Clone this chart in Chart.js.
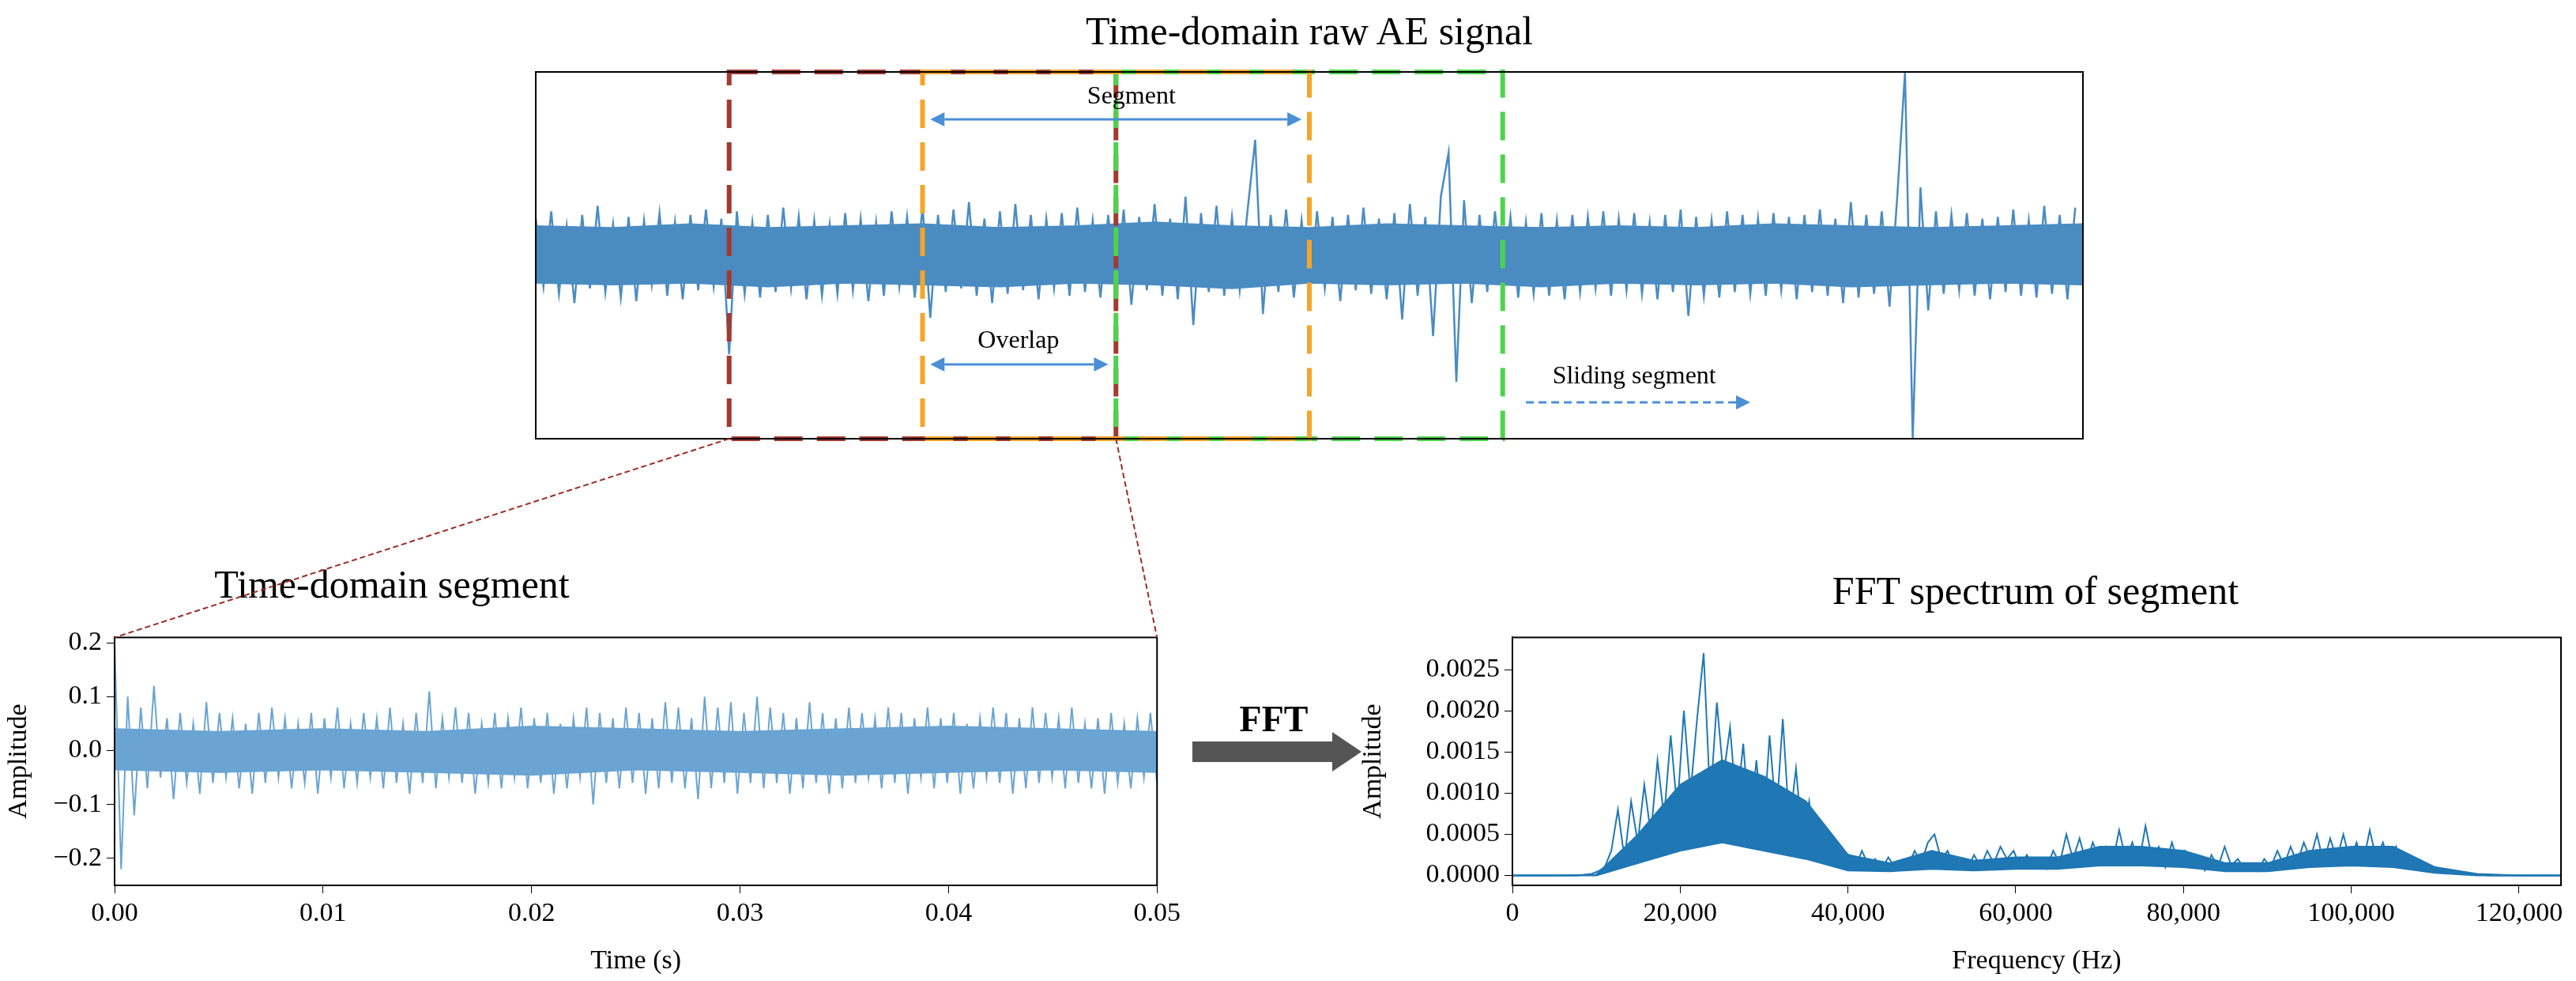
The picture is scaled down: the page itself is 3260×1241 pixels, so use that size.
<!DOCTYPE html>
<html>
<head>
<meta charset="utf-8">
<script src="https://cdn.jsdelivr.net/npm/chart.js@4.4.0/dist/chart.umd.min.js"></script>
<style>
  body { margin: 0; width: 3260px; height: 1241px; background: #fff; position: relative; overflow: hidden; font-family: 'Liberation Serif', serif; }
  canvas { position: absolute; }
  .ttl { position: absolute; font-size: 50px; color: #000; text-align: center; white-space: nowrap; }
</style>
</head>
<body>
<div class="ttl" style="left:678px;width:1958px;top:10px;">Time-domain raw AE signal</div>
<div class="ttl" style="left:146px;width:700px;top:710px;">Time-domain segment</div>
<div class="ttl" style="left:1911px;width:1330px;top:718px;">FFT spectrum of segment</div>
<canvas id="raw" width="1978" height="484" style="left:668px;top:81px;"></canvas>
<canvas id="seg" width="1500" height="460" style="left:0px;top:780px;"></canvas>
<canvas id="fft" width="1546" height="460" style="left:1714px;top:780px;"></canvas>
<canvas id="overlay" width="3260" height="1241" style="left:0;top:0;pointer-events:none;"></canvas>
<script>
// raw signal (sample index 0..1000, step 5), amplitude normalised
const rawValues = [
  0.2,-0.17,0.24,-0.21,0.16,-0.26,0.22,-0.18,0.27,-0.2,0.17,-0.23,0.21,-0.25,0.19,-0.16,0.23,-0.22,0.18,-0.24,
  0.22,-0.19,0.25,-0.17,0.2,-0.54,0.24,-0.21,0.18,-0.23,0.22,-0.2,0.26,-0.18,0.21,-0.24,0.19,-0.22,0.17,-0.21,
  0.23,-0.19,0.2,-0.25,0.18,-0.22,0.24,-0.17,0.21,-0.23,0.27,-0.34,0.22,-0.2,0.25,-0.18,0.29,-0.22,0.2,-0.26,
  0.24,-0.21,0.28,-0.19,0.22,-0.24,0.2,-0.18,0.23,-0.22,0.26,-0.2,0.19,-0.23,0.22,-0.21,0.25,-0.27,0.21,-0.19,
  0.28,-0.22,0.2,-0.24,0.32,-0.38,0.23,-0.2,0.27,-0.22,0.21,-0.19,0.24,0.63,-0.32,0.22,-0.2,0.25,-0.23,0.19,
  -0.22,0.24,-0.18,0.21,-0.25,0.22,-0.19,0.26,-0.21,0.2,-0.24,0.23,-0.35,0.28,-0.22,0.21,-0.44,0.32,0.56,-0.69,
  0.3,-0.26,0.22,-0.2,0.24,-0.19,0.21,-0.23,0.18,-0.21,0.23,-0.22,0.19,-0.24,0.22,-0.2,0.21,-0.18,0.24,-0.22,
  0.2,-0.19,0.23,-0.21,0.18,-0.24,0.22,-0.2,0.25,-0.33,0.21,-0.22,0.19,-0.23,0.24,-0.2,0.22,-0.21,0.2,-0.22,
  0.23,-0.19,0.21,-0.24,0.22,-0.2,0.25,-0.22,0.2,-0.26,0.29,-0.23,0.22,-0.21,0.24,-0.28,0.32,1.0,-1.0,0.37,
  -0.3,0.24,-0.21,0.22,-0.19,0.23,-0.22,0.2,-0.24,0.21,-0.2,0.25,-0.22,0.19,-0.23,0.27,-0.21,0.22,-0.24,0.26
];
const rawStep = 5;
// dense core of the raw signal (every 50 samples)
const rawCoreUpper = [0.16,0.15,0.17,0.15,0.16,0.17,0.15,0.16,0.18,0.16,0.15,0.17,0.16,0.15,0.16,0.15,0.17,0.16,0.15,0.16,0.17];
const rawCoreLower = [-0.15,-0.16,-0.15,-0.17,-0.15,-0.16,-0.17,-0.15,-0.16,-0.18,-0.15,-0.16,-0.15,-0.17,-0.15,-0.16,-0.15,-0.17,-0.16,-0.15,-0.16];
const rawCoreStep = 50;

// segment windows on the raw signal [start, end]
const windowRed = [125, 375];
const windowOrange = [250, 500];
const windowGreen = [375, 625];
const segmentArrow = [255, 495];
const overlapArrow = [255, 370];
const slidingArrow = [640, 785];

// time-domain segment
const segValues = [
  0.2,-0.22,0.1,-0.12,0.08,-0.07,0.12,-0.05,0.06,-0.09,0.07,-0.06,0.05,-0.08,0.09,-0.06,0.07,-0.05,0.06,-0.07,
  0.05,-0.08,0.07,-0.06,0.08,-0.05,0.06,-0.07,0.05,-0.06,0.07,-0.08,0.06,-0.05,0.08,-0.07,0.05,-0.06,0.07,-0.05,
  0.06,-0.07,0.08,-0.06,0.05,-0.08,0.07,-0.06,0.11,-0.07,0.06,-0.05,0.08,-0.06,0.07,-0.08,0.05,-0.06,0.07,-0.07,
  0.06,-0.05,0.08,-0.07,0.06,-0.06,0.07,-0.08,0.05,-0.07,0.06,-0.05,0.08,-0.1,0.07,-0.06,0.06,-0.07,0.08,-0.06,
  0.07,-0.08,0.06,-0.07,0.09,-0.06,0.08,-0.07,0.06,-0.09,0.1,-0.07,0.08,-0.06,0.09,-0.08,0.07,-0.06,0.1,-0.07,
  0.08,-0.06,0.07,-0.08,0.06,-0.07,0.09,-0.06,0.07,-0.08,0.06,-0.07,0.08,-0.06,0.07,-0.05,0.06,-0.07,0.08,-0.06,
  0.07,-0.08,0.06,-0.05,0.08,-0.07,0.06,-0.06,0.07,-0.08,0.05,-0.07,0.06,-0.05,0.08,-0.06,0.07,-0.08,0.06,-0.07,
  0.08,-0.06,0.07,-0.05,0.06,-0.07,0.08,-0.06,0.05,-0.07,0.06,-0.08,0.07,-0.06,0.05,-0.07,0.06,-0.05,0.07,-0.06
];
const segCoreUpper = [0.04,0.035,0.04,0.035,0.045,0.04,0.035,0.04,0.045,0.04,0.035];
const segCoreLower = [-0.035,-0.04,-0.035,-0.04,-0.045,-0.035,-0.04,-0.045,-0.04,-0.035,-0.04];
const segDuration = 0.05;
const segTicks = [0, 0.01, 0.02, 0.03, 0.04, 0.05];

// FFT magnitude (x1e-4), 0..125000 Hz
const fftValues = [
  0,0,0,0,0,0,0,0,0,0,0,0.1,0.2,
  0.5,1,3,8,2,9,4,
  11,5,14,7,17,8,20,10,19,27,
  9,21,12,18,8,16,6,14,5,17,
  7,19,6,13,4,9,3,6,
  2,3.5,1.5,2.5,1,3,1.2,2,0.8,2.2,1,1.8,1.2,3,1.5,4,
  5,2,3,1,2,0.8,
  2.5,1,3,1.5,3.5,2,3,1,2.5,1.2,2,0.8,3,1.5,5,2,4.5,1.5,4,2,
  3.5,1.5,5.5,2,4,1.5,6,2,3.5,1,4,1.5,3,1,2,0.6,2.5,1,3.5,1.2,
  2,0.8,1.5,0.5,2,1,3,1.2,3.5,1.5,
  4,2,5,1.5,4.5,2,5,1.8,4,1.5,5.5,2,4,1.5,3.5,
  1.5,2.5,1,1.5,0.6,1,0.4,0.6,0.3,0.3,0.2,0.1,
  0.1,0,0,0,0,0,0,0,0,0,0,0,0
];
// dense body of the spectrum (x1e-4), every 5000 Hz
const fftBandUpper = [0,0,0.1,5,11,14,12,9,2.5,1.5,3,1.8,2.2,2.2,3.5,3.5,3,1.5,1.5,3,3.5,3.5,1,0.2,0,0];
const fftBandLower = [0,0,0,1.5,3,4,3,2,0.6,0.5,0.8,0.6,0.8,0.8,1.2,1.2,1,0.5,0.5,1,1.2,1,0.3,0,0,0];
const fftBandStep = 5000;
const fftMaxFreq = 125000;
const fftXTicks = [0, 20000, 40000, 60000, 80000, 100000, 120000];
const fftYTicks = [0, 0.0005, 0.001, 0.0015, 0.002, 0.0025];

const serif = "'Liberation Serif', serif";

const boxPlugin = {
  id: 'box',
  afterDraw(chart) {
    const a = chart.chartArea, c = chart.ctx;
    c.save(); c.strokeStyle = '#000'; c.lineWidth = 2;
    c.strokeRect(a.left, a.top, a.right - a.left, a.bottom - a.top);
    c.restore();
  }
};

function arrow(c, x1, x2, y, color, both, dashed) {
  c.save();
  c.strokeStyle = color; c.fillStyle = color; c.lineWidth = 3;
  if (dashed) c.setLineDash([10, 6]);
  const h = 18, w = 9;
  c.beginPath(); c.moveTo(both ? x1 + h : x1, y); c.lineTo(x2 - h, y); c.stroke();
  c.setLineDash([]);
  c.beginPath(); c.moveTo(x2, y); c.lineTo(x2 - h, y - w); c.lineTo(x2 - h, y + w); c.fill();
  if (both) { c.beginPath(); c.moveTo(x1, y); c.lineTo(x1 + h, y - w); c.lineTo(x1 + h, y + w); c.fill(); }
  c.restore();
}

const windowPlugin = {
  id: 'windows',
  afterDatasetsDraw(chart) {
    const a = chart.chartArea, c = chart.ctx, xs = chart.scales.x;
    const px = v => xs.getPixelForValue(v);
    c.save();
    c.lineWidth = 6; c.setLineDash([36, 18]);
    [[windowRed, '#a33a2f'], [windowGreen, '#4ed24e'], [windowOrange, '#f5a52a']].forEach(([w, col]) => {
      c.strokeStyle = col;
      c.strokeRect(px(w[0]), a.top, px(w[1]) - px(w[0]), a.bottom - a.top);
    });
    c.setLineDash([]);
    const blue = '#4a8fd6';
    arrow(c, px(segmentArrow[0]), px(segmentArrow[1]), a.top + 60, blue, true, false);
    arrow(c, px(overlapArrow[0]), px(overlapArrow[1]), a.top + 370, blue, true, false);
    arrow(c, px(slidingArrow[0]), px(slidingArrow[1]), a.top + 418, blue, false, true);
    c.fillStyle = '#000'; c.font = '32px ' + serif; c.textAlign = 'center'; c.textBaseline = 'bottom';
    c.fillText('Segment', px(385), a.top + 48);
    c.fillText('Overlap', px(312), a.top + 357);
    c.fillText('Sliding segment', px(710), a.top + 402);
    c.restore();
  }
};

const tickFont = { family: serif, size: 34 };
const lineDs = (pts, color, w) => ({ data: pts, borderColor: color, backgroundColor: color, borderWidth: w, pointRadius: 0, tension: 0, fill: false });
const bandDs = (pts, color, fill) => ({ data: pts, borderColor: color, backgroundColor: color, borderWidth: 2, pointRadius: 0, tension: 0, fill });

const raw = new Chart(document.getElementById('raw'), {
  type: 'line',
  data: { datasets: [
    bandDs(rawCoreUpper.map((v, i) => ({ x: i * rawCoreStep, y: v })), '#4a8cc2', false),
    bandDs(rawCoreLower.map((v, i) => ({ x: i * rawCoreStep, y: v })), '#4a8cc2', '-1'),
    lineDs(rawValues.map((v, i) => ({ x: i * rawStep, y: v })), '#4a8cc2', 2.5)
  ] },
  options: {
    responsive: false, animation: false, devicePixelRatio: 1,
    layout: { padding: 10 },
    plugins: { legend: { display: false }, tooltip: { enabled: false } },
    scales: { x: { type: 'linear', min: 0, max: 1000, display: false }, y: { min: -1, max: 1, display: false } }
  },
  plugins: [boxPlugin, windowPlugin]
});

function axisOpts(min, max, ticks, fmt, title, fixed, isX) {
  return {
    type: 'linear', min, max,
    afterBuildTicks: s => { s.ticks = ticks.map(v => ({ value: v })); },
    afterFit: s => { if (isX) s.height = fixed; else s.width = fixed; },
    ticks: { font: tickFont, color: '#000', callback: fmt, padding: 6, autoSkip: false, maxRotation: 0 },
    grid: { drawOnChartArea: false, drawTicks: true, tickLength: 10, tickColor: '#000' },
    border: { color: '#000', width: 2 },
    title: { display: true, text: title, font: tickFont, color: '#000', padding: isX ? { top: 14 } : { bottom: 8 } }
  };
}
const minus = s => s.replace('-', '\u2212');

const seg = new Chart(document.getElementById('seg'), {
  type: 'line',
  data: { datasets: [
    bandDs(segCoreUpper.map((v, i) => ({ x: i * segDuration / (segCoreUpper.length - 1), y: v })), '#6aa4d2', false),
    bandDs(segCoreLower.map((v, i) => ({ x: i * segDuration / (segCoreLower.length - 1), y: v })), '#6aa4d2', '-1'),
    lineDs(segValues.map((v, i) => ({ x: i * segDuration / (segValues.length - 1), y: v })), '#6aa4d2', 2)
  ] },
  options: {
    responsive: false, animation: false, devicePixelRatio: 1,
    layout: { padding: { top: 17, right: 26, left: 0, bottom: 0 } },
    plugins: { legend: { display: false }, tooltip: { enabled: false } },
    scales: {
      x: axisOpts(0, 0.05, segTicks, v => v.toFixed(2), 'Time (s)', 120, true),
      y: axisOpts(-0.25, 0.21, [-0.2, -0.1, 0, 0.1, 0.2], v => minus(v.toFixed(1)), 'Amplitude', 145, false)
    }
  },
  plugins: [boxPlugin]
});

const fft = new Chart(document.getElementById('fft'), {
  type: 'line',
  data: { datasets: [
    bandDs(fftBandUpper.map((v, i) => ({ x: i * fftBandStep, y: v * 1e-4 })), '#1f77b4', false),
    bandDs(fftBandLower.map((v, i) => ({ x: i * fftBandStep, y: v * 1e-4 })), '#1f77b4', '-1'),
    lineDs(fftValues.map((v, i) => ({ x: i * fftMaxFreq / (fftValues.length - 1), y: v * 1e-4 })), '#1f77b4', 2)
  ] },
  options: {
    responsive: false, animation: false, devicePixelRatio: 1,
    layout: { padding: { top: 17, right: 19, left: 0, bottom: 0 } },
    plugins: { legend: { display: false }, tooltip: { enabled: false } },
    scales: {
      x: axisOpts(0, fftMaxFreq, fftXTicks, v => v.toLocaleString('en-US'), 'Frequency (Hz)', 120, true),
      y: axisOpts(-0.00012, 0.00289, fftYTicks, v => v.toFixed(4), 'Amplitude', 200, false)
    }
  },
  plugins: [boxPlugin]
});

// connectors and FFT arrow
const c = document.getElementById('overlay').getContext('2d');
const ra = raw.chartArea, sa = seg.chartArea;
const rx = raw.canvas.offsetLeft, ry = raw.canvas.offsetTop;
const sx = seg.canvas.offsetLeft, sy = seg.canvas.offsetTop;
c.strokeStyle = '#9b2d24'; c.lineWidth = 2; c.setLineDash([7, 4]);
c.beginPath();
c.moveTo(rx + raw.scales.x.getPixelForValue(windowRed[0]), ry + ra.bottom); c.lineTo(sx + sa.left, sy + sa.top);
c.moveTo(rx + raw.scales.x.getPixelForValue(windowRed[1]), ry + ra.bottom); c.lineTo(sx + sa.right, sy + sa.top);
c.stroke();
c.setLineDash([]);
c.fillStyle = '#555';
c.fillRect(1509, 938, 180, 26);
c.beginPath(); c.moveTo(1723, 951); c.lineTo(1686, 926); c.lineTo(1686, 976); c.fill();
c.fillStyle = '#000'; c.font = 'bold 46px ' + serif; c.textAlign = 'center';
c.fillText('FFT', 1612, 925);
</script>
</body>
</html>
